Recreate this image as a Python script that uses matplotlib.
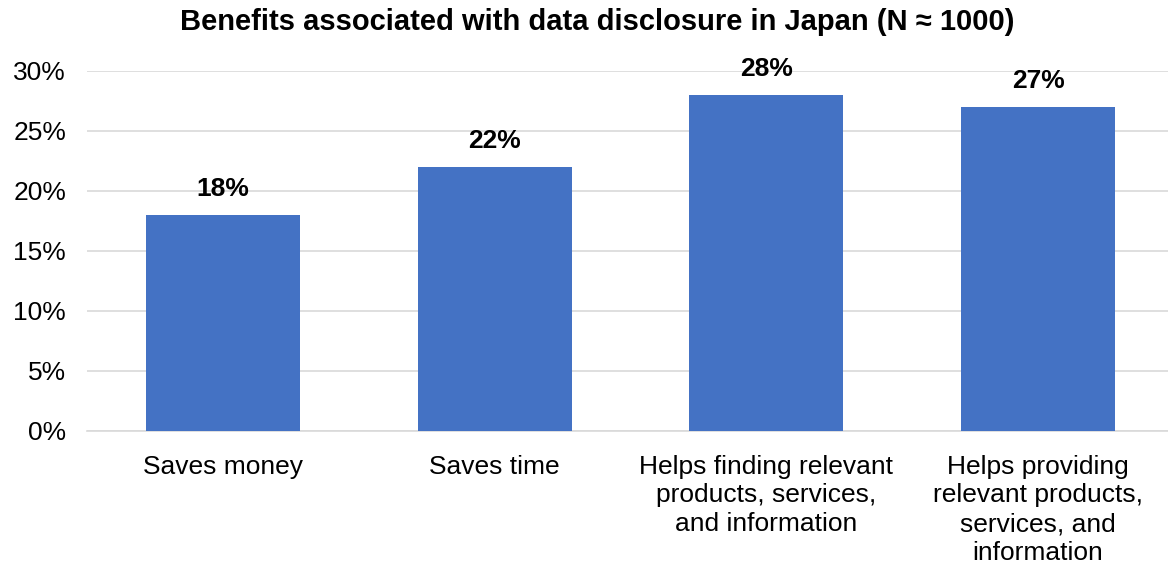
import matplotlib
matplotlib.use('agg')
import matplotlib.pyplot as plt

categories = ['Saves money', 'Saves time',
              'Helps finding relevant\nproducts, services,\nand information',
              'Helps providing\nrelevant products,\nservices, and\ninformation']
shares = [18, 22, 28, 27]
yticks = [0, 5, 10, 15, 20, 25, 30]

plt.rcParams['font.family'] = ['Liberation Sans', 'DejaVu Sans']

fig = plt.figure(figsize=(11.68, 5.67), dpi=100)
ax = fig.add_axes([0.0745, 0.2399, 0.9255, 0.6349])

x = range(len(categories))
ax.bar(x, shares, width=0.566, color='#4472C4', zorder=3)
for i, v in zip(x, shares):
    ax.annotate(f'{v}%', (i, v), xytext=(0, 10), textcoords='offset points',
                ha='center', va='bottom', fontsize=19, fontweight='bold')

ax.set_xlim(-0.5, 3.478)
ax.set_ylim(0, 30)
ax.set_yticks(yticks)
ax.set_yticklabels([f'{t}%' for t in yticks], fontsize=19)
ax.set_xticks(list(x))
ax.set_xticklabels(categories, fontsize=19, va='top', linespacing=1.25)
ax.tick_params(axis='y', length=0, pad=15)
ax.tick_params(axis='x', length=0, pad=17)
ax.grid(axis='y', color='#d9d9d9', linewidth=1.2, zorder=0)
for s in ['top', 'right', 'left']:
    ax.spines[s].set_visible(False)
ax.spines['bottom'].set_color('#d9d9d9')
ax.spines['bottom'].set_linewidth(1.2)

fig.text(0.511, 0.961, 'Benefits associated with data disclosure in Japan (N \u2248 1000)',
         ha='center', va='center', fontsize=21, fontweight='bold')

plt.savefig('out.png', dpi=100)
plt.close()
